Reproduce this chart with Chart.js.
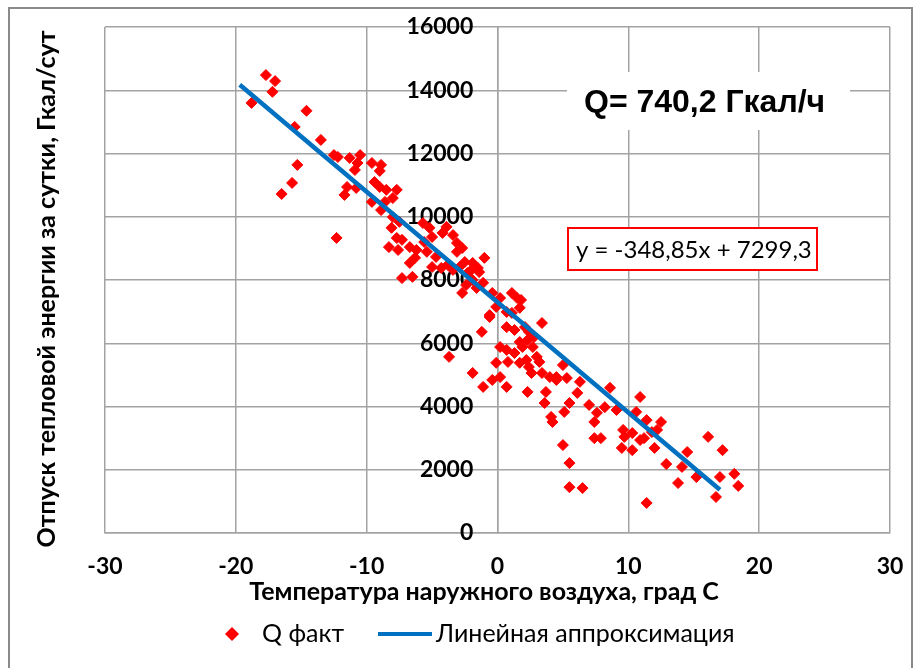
<!DOCTYPE html>
<html lang="ru">
<head>
<meta charset="utf-8">
<title>Отпуск тепловой энергии</title>
<script src="https://cdn.jsdelivr.net/npm/chart.js@4.4.0/dist/chart.umd.min.js"></script>
<style>
  html, body { margin: 0; padding: 0; background: #ffffff; }
  #wrap { position: relative; width: 916px; height: 668px; }
</style>
</head>
<body>
<div id="wrap"><canvas id="chart" width="916" height="668"></canvas></div>
<script>
// Outdoor temperature, °C (one value per day)
const tempC = [
  -17.7, -17.0, -17.2, -18.8, -14.6, -15.5, -13.5, -15.3, -15.7, -16.5,
  -12.3, -12.5, -12.2, -11.3, -10.5, -10.7, -10.9, -11.5, -11.7, -10.8,
  -9.6, -8.9, -9.0, -9.4, -9.0, -8.5, -7.7, -8.0, -8.6, -9.6,
  -8.9, -8.0, -7.5, -8.1, -7.7, -7.3, -8.3, -7.6, -6.7, -6.2,
  -6.3, -6.7, -7.3, -6.5, -5.7, -5.2, -5.6, -5.4, -4.7, -5.0,
  -5.0, -3.9, -4.2, -3.4, -3.1, -2.7, -3.1, -4.3, -3.8, -3.4,
  -2.9, -2.5, -1.9, -1.5, -1.0, -1.4, -2.0, -2.3, -2.7, -2.4,
  -1.6, -1.1, -1.9, -0.6, -1.2, -3.7,
  -0.4, 0.2, -0.1, 0.7, 1.1, 1.5, 1.8, 1.7, 1.1, -0.6,
  3.4, 0.7, 1.3, 2.1, 2.4, 2.8, 1.7, 2.3, 0.2, 0.7,
  1.3, 1.9, 2.7, 3.0, 2.2, -0.1, 0.8, 1.7, 2.4, 3.2,
  3.4, 2.6, 4.0, 4.5, 5.3, -1.9, -1.1, -0.4, 0.2, 0.7,
  2.3, 3.7, 3.6, 4.5, 5.0, 6.3, 6.1, 5.5, 5.1, 4.1,
  4.2, 7.0, 7.6, 8.2, 8.6, 7.4, 7.4, 7.9, 9.1, 5.0,
  5.5, 5.5, 6.5,
  10.9, 10.6, 11.4, 9.6, 10.3, 10.9, 10.3, 9.5, 12.0, 11.4,
  9.7, 11.2, 11.8, 12.2, 12.5, 12.9, 14.1, 14.5, 15.2, 13.8,
  16.1, 17.2, 17.0, 18.1, 18.4, 16.7
];

// Daily heat supply, Gcal/day (same order as tempC)
const heatQ = [
  14480, 14290, 13950, 13600, 13350, 12840, 12430, 11640, 11070, 10720,
  9330, 11950, 11890, 11860, 11950, 11700, 11480, 10940, 10690, 10910,
  11700, 11640, 11450, 11100, 10940, 10850, 10850, 10590, 10470, 10470,
  10210, 9990, 9840, 9650, 9330, 9270, 9040, 8950, 9040, 8950,
  8700, 8540, 8060, 8100, 9800, 9650, 9200, 8890, 8730, 8410,
  9360, 9680, 9490, 9420, 9170, 9010, 8890, 8380, 8480, 8320,
  8410, 8570, 8540, 8380, 8700, 8250, 8320, 8220, 7590, 7840,
  7750, 7910, 8000, 6830, 6360, 5570,
  7590, 7430, 7150, 6990, 7590, 7430, 7370, 7120, 6960, 6890,
  6640, 6510, 6420, 6510, 6360, 6200, 6040, 6100, 5880, 5790,
  5690, 5880, 5880, 5570, 5470, 5380, 5410, 5380, 5250, 5410,
  5060, 5060, 4930, 4930, 4900, 5060, 4620, 4840, 4930, 4620,
  4460, 4460, 4110, 4840, 5310, 4780, 4430, 4110, 3830, 3670,
  3510, 4050, 3800, 3980, 4590, 3510, 3000, 3000, 3890, 2780,
  2210, 1450, 1420,
  4300, 3830, 3570, 3260, 3160, 2940, 2620, 2690, 2690, 950,
  3040, 3000, 3190, 3260, 3510, 2180, 2090, 2560, 1770, 1580,
  3040, 2620, 1770, 1870, 1490, 1140
];

// Linear fit of heat supply vs temperature
const trendSlope = -348.85;
const trendIntercept = 7299.3;
const trendRange = [-19.7, 17.0];

// Axis ticks
const xTicks = { min: -30, max: 30, step: 10 };
const yTicks = { min: 0, max: 16000, step: 2000 };

const seriesNames = ['Q факт', 'Линейная аппроксимация'];
const xTitle = 'Температура наружного воздуха, град С';
const yTitle = 'Отпуск тепловой энергии за сутки, Гкал/сут';
const loadLabel = 'Q= 740,2 Гкал/ч';

const fmtNum = v => String(v).replace('.', ',');
const equationText = 'y = ' + fmtNum(trendSlope) + 'x + ' + fmtNum(trendIntercept);

const GRID = '#a3a3a3';
const RED = '#ff0000';
const BLUE = '#0070c0';

const decorations = {
  id: 'decorations',
  afterDraw(chart) {
    const ctx = chart.ctx;
    ctx.save();

    // outer frame
    ctx.strokeStyle = '#8a8a8a';
    ctx.lineWidth = 2;
    ctx.strokeRect(9, 8, 903, 700);

    ctx.fillStyle = '#000000';

    // axis titles
    ctx.font = 'bold 25px Lato';
    ctx.textAlign = 'center';
    ctx.textBaseline = 'middle';
    ctx.fillText(xTitle, 484, 592);
    ctx.save();
    ctx.translate(47, 289);
    ctx.rotate(-Math.PI / 2);
    ctx.fillText(yTitle, 0, 0);
    ctx.restore();

    // load label
    ctx.fillStyle = '#ffffff';
    ctx.fillRect(567, 72, 283, 58);
    ctx.fillStyle = '#000000';
    ctx.font = 'bold 32px "Liberation Sans"';
    ctx.textAlign = 'left';
    ctx.textBaseline = 'alphabetic';
    ctx.fillText(loadLabel, 584, 112);

    // equation box
    ctx.fillStyle = '#ffffff';
    ctx.fillRect(568, 228, 249, 42);
    ctx.strokeStyle = RED;
    ctx.lineWidth = 2;
    ctx.strokeRect(568, 228, 249, 42);
    ctx.fillStyle = '#000000';
    ctx.font = '24px Lato';
    ctx.textBaseline = 'middle';
    ctx.fillText(equationText, 576, 250);

    // legend
    const ly = 634;
    ctx.fillStyle = RED;
    ctx.beginPath();
    ctx.moveTo(232, ly - 7);
    ctx.lineTo(239, ly);
    ctx.lineTo(232, ly + 7);
    ctx.lineTo(225, ly);
    ctx.closePath();
    ctx.fill();
    ctx.strokeStyle = BLUE;
    ctx.lineWidth = 4;
    ctx.beginPath();
    ctx.moveTo(378, ly);
    ctx.lineTo(432, ly);
    ctx.stroke();
    ctx.fillStyle = '#000000';
    ctx.font = '25px Lato';
    ctx.textAlign = 'left';
    ctx.fillText(seriesNames[0], 262, ly);
    ctx.fillText(seriesNames[1], 436, ly);

    ctx.restore();
  }
};

const tickFont = { family: 'Lato', size: 23, weight: 'bold' };

new Chart(document.getElementById('chart'), {
  type: 'scatter',
  data: {
    datasets: [
      {
        label: seriesNames[1],
        type: 'line',
        data: trendRange.map(x => ({ x, y: trendSlope * x + trendIntercept })),
        borderColor: BLUE,
        borderWidth: 4.5,
        pointRadius: 0,
        fill: false,
        order: 0
      },
      {
        label: seriesNames[0],
        data: tempC.map((t, i) => ({ x: t, y: heatQ[i] })),
        pointStyle: 'rectRot',
        pointRadius: 5.5,
        pointHoverRadius: 5.5,
        backgroundColor: RED,
        borderColor: RED,
        borderWidth: 1,
        order: 1
      }
    ]
  },
  options: {
    responsive: false,
    animation: false,
    events: [],
    layout: { padding: { left: 105, right: 26, top: 27, bottom: 63 } },
    plugins: {
      legend: { display: false },
      tooltip: { enabled: false }
    },
    scales: {
      x: {
        type: 'linear',
        position: 'bottom',
        min: xTicks.min,
        max: xTicks.max,
        ticks: { stepSize: xTicks.step, font: tickFont, color: '#000000', padding: 20 },
        grid: { color: GRID, lineWidth: 1.5, drawTicks: false },
        border: { color: GRID, width: 1.5 },
        afterFit(scale) {
          scale.height = 72;
          scale.paddingLeft = 0;
          scale.paddingRight = 0;
        }
      },
      y: {
        type: 'linear',
        position: { x: 0 },
        min: yTicks.min,
        max: yTicks.max,
        ticks: { stepSize: yTicks.step, display: false },
        grid: { color: GRID, lineWidth: 1.5, drawTicks: false },
        border: { color: GRID, width: 1.5 },
        afterFit(scale) {
          scale.paddingTop = 0;
          scale.paddingBottom = 0;
        }
      },
      yLabels: {
        type: 'linear',
        axis: 'y',
        // labels sit a little left of the x = 0 axis line
        position: { x: -1.85 },
        z: 1,
        min: yTicks.min,
        max: yTicks.max,
        ticks: {
          stepSize: yTicks.step,
          font: tickFont,
          color: '#000000',
          padding: 0,
          callback: v => String(v)
        },
        grid: { display: false, drawTicks: false },
        border: { display: false },
        afterFit(scale) {
          scale.paddingTop = 0;
          scale.paddingBottom = 0;
        }
      }
    }
  },
  plugins: [decorations]
});
</script>
</body>
</html>
